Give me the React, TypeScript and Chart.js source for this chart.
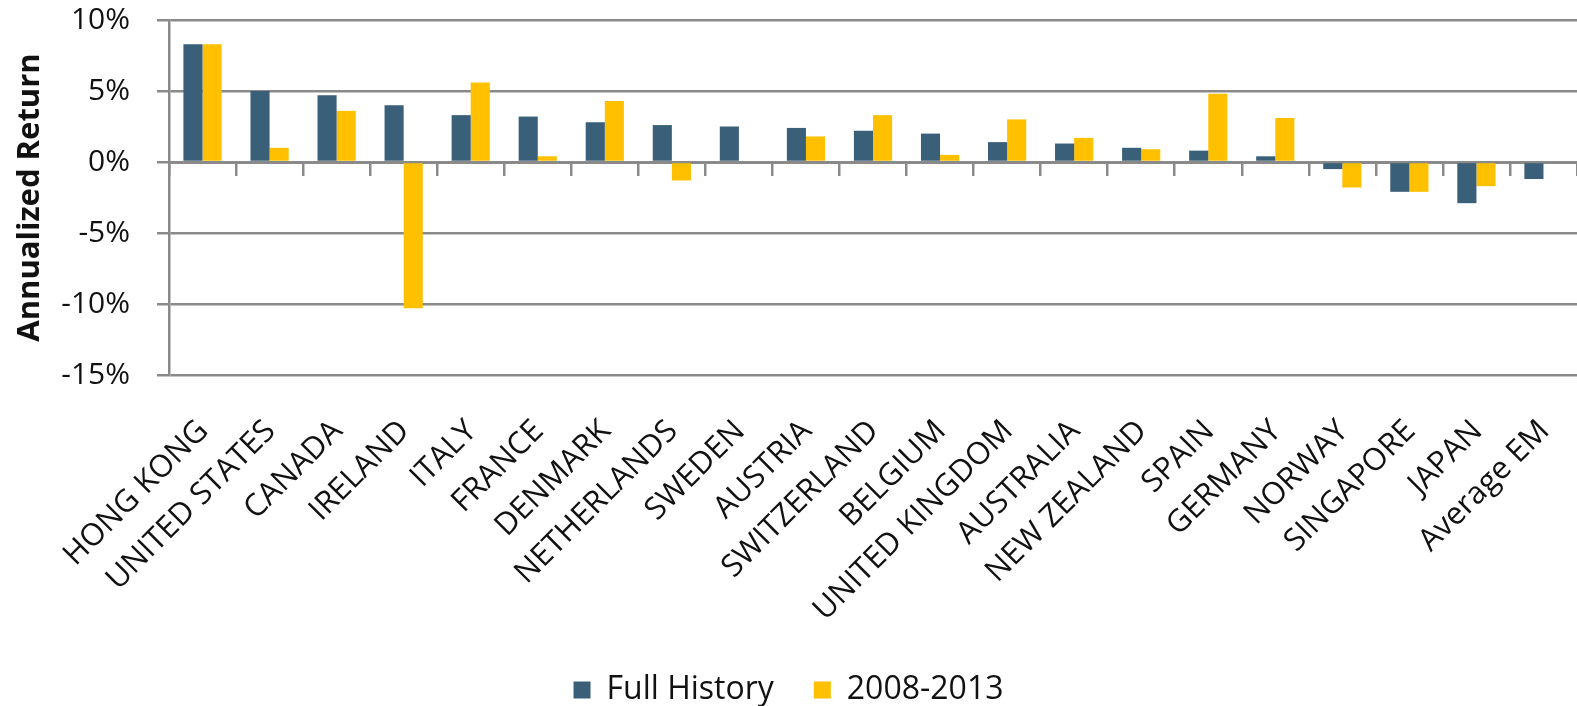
import React, { useEffect, useRef } from "react";
import { Chart, registerables } from "chart.js";

Chart.register(...registerables);

// Annualized real returns by market
const categories = [
  "HONG KONG",
  "UNITED STATES",
  "CANADA",
  "IRELAND",
  "ITALY",
  "FRANCE",
  "DENMARK",
  "NETHERLANDS",
  "SWEDEN",
  "AUSTRIA",
  "SWITZERLAND",
  "BELGIUM",
  "UNITED KINGDOM",
  "AUSTRALIA",
  "NEW ZEALAND",
  "SPAIN",
  "GERMANY",
  "NORWAY",
  "SINGAPORE",
  "JAPAN",
  "Average EM",
];

const fullHistory = [
  8.3, 5.0, 4.7, 4.0, 3.3, 3.2, 2.8, 2.6, 2.5, 2.4, 2.2, 2.0, 1.4, 1.3, 1.0, 0.8,
  0.4, -0.5, -2.1, -2.9, -1.2,
];

const period2008to2013 = [
  8.3, 1.0, 3.6, -10.3, 5.6, 0.4, 4.3, -1.3, null, 1.8, 3.3, 0.5, 3.0, 1.7, 0.9,
  4.8, 3.1, -1.8, -2.1, -1.7, null,
];

const seriesNames = ["Full History", "2008-2013"];
const yMin = -15;
const yMax = 10;
const yStep = 5;

const BLUE = "#395F79";
const GOLD = "#FFC000";
const GRID = "#8a8a8a";
const TEXT = "#111111";
const FONT = "'Open Sans', 'Noto Sans', sans-serif";

export default function App() {
  const canvasRef = useRef<HTMLCanvasElement | null>(null);

  useEffect(() => {
    const canvas = canvasRef.current;
    if (!canvas) return;

    const chart = new Chart(canvas, {
      type: "bar",
      data: {
        labels: categories,
        datasets: [
          {
            label: seriesNames[0],
            data: fullHistory,
            backgroundColor: BLUE,
            borderWidth: 0,
            categoryPercentage: 0.57,
            barPercentage: 1.0,
          },
          {
            label: seriesNames[1],
            data: period2008to2013,
            backgroundColor: GOLD,
            borderWidth: 0,
            categoryPercentage: 0.57,
            barPercentage: 1.0,
          },
        ],
      },
      options: {
        responsive: false,
        animation: false,
        layout: { padding: { top: 20, left: 0, right: 0, bottom: -10 } },
        plugins: {
          legend: {
            display: true,
            position: "bottom",
            labels: {
              color: TEXT,
              font: { family: FONT, size: 32 },
              boxWidth: 17,
              boxHeight: 17,
              padding: 40,
            },
          },
          tooltip: { enabled: false },
        },
        scales: {
          x: {
            type: "category",
            position: "bottom",
            offset: true,
            grid: { display: false, drawTicks: false },
            border: { display: false },
            ticks: {
              autoSkip: false,
              minRotation: 45,
              maxRotation: 45,
              padding: 38,
              labelOffset: 1,
              color: TEXT,
              font: { family: FONT, size: 31 },
            },
            afterFit: (scale: any) => {
              scale.height = 259;
              scale.paddingLeft = 0;
              scale.paddingRight = 0;
            },
          },
          // zero line carrying the category separators
          xZero: {
            type: "category",
            labels: categories,
            position: { y: 0 } as any,
            offset: true,
            grid: {
              offset: true,
              drawOnChartArea: false,
              drawTicks: true,
              tickLength: 12,
              color: GRID,
              lineWidth: 2.5,
            },
            border: { display: true, color: GRID, width: 3 },
            ticks: { display: false },
          },
          y: {
            min: yMin,
            max: yMax,
            ticks: {
              stepSize: yStep,
              padding: 27,
              color: TEXT,
              font: { family: FONT, size: 30 },
              callback: (v: any) => `${v}%`,
            },
            grid: {
              color: GRID,
              lineWidth: 2.5,
              drawTicks: true,
              tickLength: 12,
            },
            border: { display: true, color: GRID, width: 2.5 },
            title: {
              display: true,
              text: "Annualized Return",
              color: TEXT,
              font: { family: FONT, size: 31, weight: "bold" },
              padding: { top: 12, bottom: 0 },
            },
            afterFit: (scale: any) => {
              scale.width = 169;
              scale.paddingTop = 0;
              scale.paddingBottom = 0;
            },
          },
        },
      },
    });

    return () => chart.destroy();
  }, []);

  return (
    <div style={{ position: "fixed", left: 0, top: 0, width: 1577, height: 706, background: "#fff" }}>
      <canvas ref={canvasRef} width={1577} height={706} />
    </div>
  );
}
